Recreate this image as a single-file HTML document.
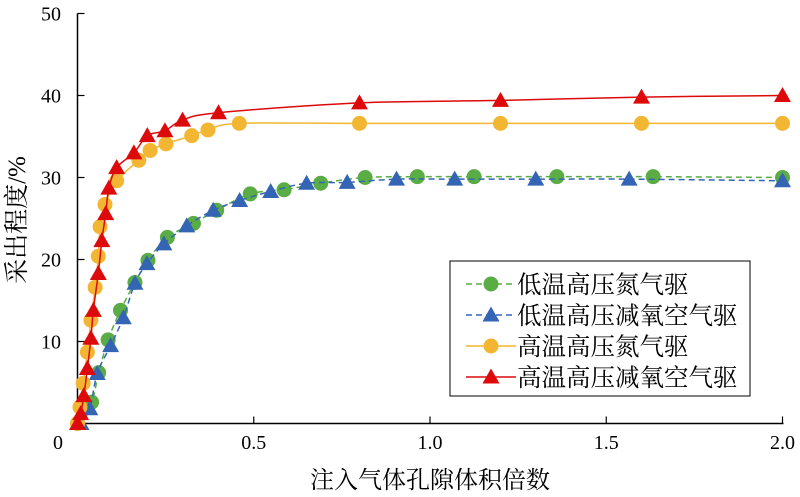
<!DOCTYPE html>
<html><head><meta charset="utf-8">
<style>
html,body{margin:0;padding:0;background:#fff;}
svg{display:block;font-family:"Liberation Serif","Noto Serif CJK SC",serif;}
</style></head>
<body>
<svg id="chart" width="800" height="497" viewBox="0 0 800 497" xmlns="http://www.w3.org/2000/svg">
  <g id="axes"></g>
  <g id="plot"></g>
  <text x="430" y="488" text-anchor="middle" font-size="24" font-family="'Noto Serif CJK SC',serif">注入气体孔隙体积倍数</text>
  <text transform="translate(25,220) rotate(-90)" text-anchor="middle" font-size="25" font-family="'Liberation Serif','Noto Serif CJK SC',serif">采出程度/%</text>
  <g id="legend">
    <rect x="450" y="261" width="300" height="135" fill="#fff" stroke="#000" stroke-width="1"/>
  </g>
</svg>
<script>
const xTicks=[0,0.5,1.0,1.5,2.0];
const xTickLabels=["0","0.5","1.0","1.5","2.0"];
const yTicks=[10,20,30,40,50];
const yTickLabels=["10","20","30","40","50"];
const seriesNames=["低温高压氮气驱","低温高压减氧空气驱","高温高压氮气驱","高温高压减氧空气驱"];
const greenX=[0,0.04,0.06,0.087,0.122,0.163,0.2,0.255,0.329,0.395,0.49,0.586,0.69,0.816,0.964,1.125,1.36,1.633,2.0];
const greenY=[0,2.6,6.2,10.2,13.8,17.2,19.9,22.7,24.4,26.0,28.0,28.5,29.3,30.0,30.1,30.1,30.1,30.1,30.0];
const blueX=[0.01,0.035,0.056,0.094,0.13,0.163,0.197,0.245,0.31,0.385,0.46,0.548,0.65,0.765,0.905,1.07,1.30,1.565,2.0];
const blueY=[0,1.8,6.1,9.5,12.9,17.1,19.5,21.9,24.1,26.0,27.2,28.3,29.3,29.4,29.8,29.8,29.8,29.8,29.6];
const yellowX=[0,0.007,0.016,0.028,0.038,0.05,0.059,0.064,0.078,0.111,0.174,0.206,0.251,0.324,0.37,0.459,0.8,1.2,1.6,2.0];
const yellowY=[0,2.0,4.9,8.7,12.6,16.6,20.4,24.0,26.7,29.6,32.1,33.3,34.1,35.1,35.8,36.6,36.6,36.6,36.6,36.6];
const redX=[0,0.009,0.018,0.028,0.038,0.045,0.059,0.069,0.08,0.089,0.111,0.16,0.198,0.248,0.298,0.4,0.8,1.2,1.6,2.0];
const redY=[0,1.2,3.4,6.7,10.4,13.8,18.3,22.3,25.6,28.7,31.2,33.0,35.1,35.7,37.0,37.9,39.1,39.4,39.8,40.0];

const X0=77.5,XW=352.5,Y0=423.5,YS=8.2;
const sx=v=>X0+v*XW;
const sy=v=>Y0-v*YS;
const NS="http://www.w3.org/2000/svg";
function mk(tag,attrs,parent){const e=document.createElementNS(NS,tag);for(const k in attrs)e.setAttribute(k,attrs[k]);parent.appendChild(e);return e;}
const axes=document.getElementById('axes'),plot=document.getElementById('plot'),legend=document.getElementById('legend');

let a=mk('line',{x1:X0,y1:Y0,x2:X0,y2:sy(50),stroke:'#000','stroke-width':1.5},axes);


a=mk('line',{x1:X0,y1:Y0,x2:sx(2.0)+1,y2:Y0,stroke:'#000','stroke-width':1.5},axes);


xTicks.forEach((v,i)=>{
  if(i>0){const t=mk('line',{x1:sx(v),y1:Y0,x2:sx(v),y2:Y0-7,stroke:'#000','stroke-width':1.2},axes);
  
  }
  const l=mk('text',{x:i===0?58:sx(v),y:449,'text-anchor':'middle','font-size':20},axes);
  
  
  l.textContent=xTickLabels[i];
});
yTicks.forEach((v,i)=>{
  const t=mk('line',{x1:X0,y1:sy(v),x2:X0+7,y2:sy(v),stroke:'#000','stroke-width':1.2},axes);
  
  
  const l=mk('text',{x:61,y:sy(v)+7,'text-anchor':'end','font-size':20},axes);
  
  
  l.textContent=yTickLabels[i];
});

function smooth(xs,ys){
  const p=xs.map((x,i)=>[sx(x),sy(ys[i])]);
  let d='M'+p[0][0]+','+p[0][1];
  for(let i=0;i<p.length-1;i++){
    const p0=p[i-1]||p[i],p1=p[i],p2=p[i+1],p3=p[i+2]||p2;
    const c1=[p1[0]+(p2[0]-p0[0])/6,p1[1]+(p2[1]-p0[1])/6];
    const c2=[p2[0]-(p3[0]-p1[0])/6,p2[1]-(p3[1]-p1[1])/6];
    d+=' C'+c1[0]+','+c1[1]+' '+c2[0]+','+c2[1]+' '+p2[0]+','+p2[1];
  }
  return d;
}
function marker(kind,x,y,color,parent,name){
  let m;
  if(kind==='circle') m=mk('circle',{cx:x,cy:y,r:7.5,fill:color},parent);
  else m=mk('polygon',{points:`${x},${y-8.5} ${x+8.5},${y+6.5} ${x-8.5},${y+6.5}`,fill:color},parent);
  
  
}
const series=[
  {xs:greenX,ys:greenY,color:'#5aac44',kind:'circle',dash:'6,4',name:'green'},
  {xs:blueX,ys:blueY,color:'#3465b4',kind:'tri',dash:'6,4',name:'blue'},
  {xs:yellowX,ys:yellowY,color:'#f2b632',kind:'circle',dash:null,name:'yellow'},
  {xs:redX,ys:redY,color:'#dc0a0a',kind:'tri',dash:null,name:'red'}
];
series.forEach((s,si)=>{
  const g=mk('g',{},plot);
  
  
  const attrs={d:smooth(s.xs,s.ys),fill:'none',stroke:s.color,'stroke-width':1.5};
  if(s.dash)attrs['stroke-dasharray']=s.dash;
  const p=mk('path',attrs,g);
  
  
  s.xs.forEach((x,i)=>marker(s.kind,sx(x),sy(s.ys[i]),s.color,g,'point-'+s.name));
  const ly=284+si*31;
  const la={x1:466,y1:ly,x2:516,y2:ly,stroke:s.color,'stroke-width':1.5};
  if(s.dash)la['stroke-dasharray']=s.dash;
  const ll=mk('line',la,legend);
  
  
  marker(s.kind,491,ly,s.color,legend,'legend-marker-'+s.name);
  const t=mk('text',{x:517,y:ly+9,'font-size':24.5,'font-family':"'Noto Serif CJK SC',serif"},legend);
  
  
  t.textContent=seriesNames[si];
});
</script>
</body></html>
